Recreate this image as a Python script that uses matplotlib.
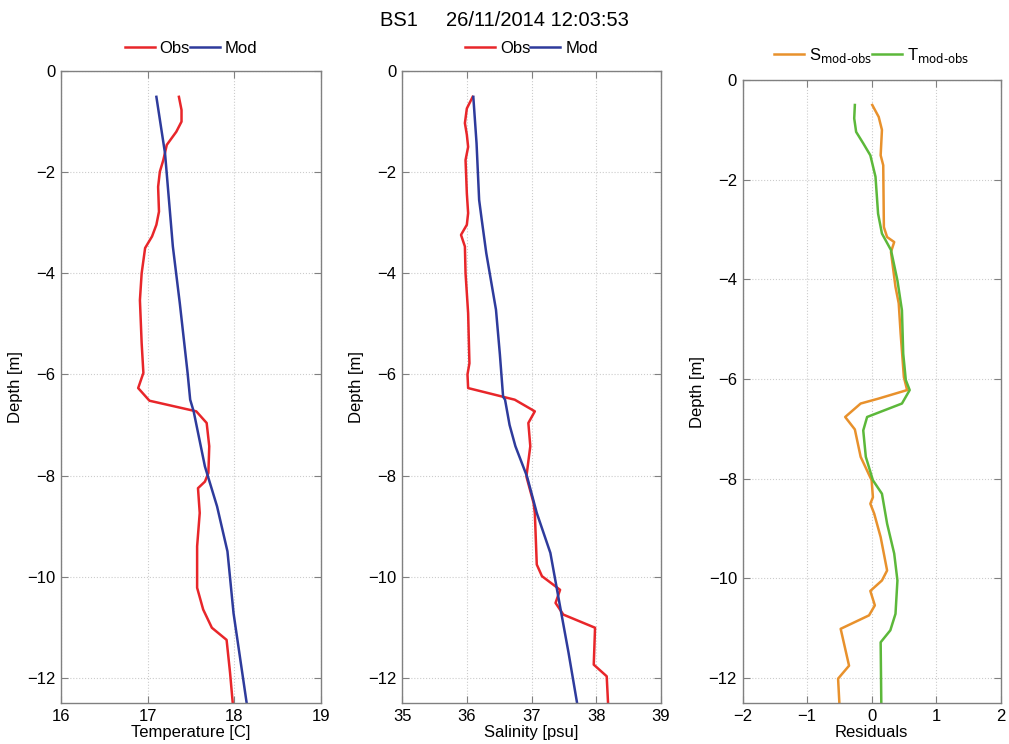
import matplotlib.pyplot as plt
import numpy as np

plt.rcParams['font.family'] = ['Liberation Sans', 'DejaVu Sans']

title = "BS1     26/11/2014 12:03:53"

# temperature profile
t_obs_depth = [-0.51, -0.77, -1.0, -1.2, -1.46, -1.76, -1.99, -2.29, -2.78, -3.04, -3.27, -3.50,
               -4.0, -4.53, -5.38, -5.97, -6.27, -6.52, -6.73, -6.96, -7.42, -7.95, -8.12, -8.25,
               -8.74, -9.40, -10.22, -10.65, -11.01, -11.25, -11.90, -12.48]
t_obs = [17.36, 17.39, 17.39, 17.33, 17.22, 17.18, 17.14, 17.12, 17.13, 17.10, 17.05, 16.97,
         16.93, 16.91, 16.93, 16.95, 16.89, 17.02, 17.56, 17.68, 17.71, 17.70, 17.66, 17.58,
         17.60, 17.57, 17.57, 17.64, 17.74, 17.91, 17.95, 17.98]
t_mod_depth = [-0.51, -1.63, -3.47, -4.59, -5.97, -6.50, -6.73, -7.82, -8.61, -9.50, -10.72, -12.48]
t_mod = [17.10, 17.20, 17.29, 17.37, 17.46, 17.49, 17.53, 17.66, 17.80, 17.92, 17.99, 18.14]

# salinity profile
s_obs_depth = [-0.51, -0.74, -1.03, -1.26, -1.50, -1.76, -2.42, -2.81, -3.04, -3.24, -3.47, -4.0,
               -4.79, -5.78, -6.0, -6.27, -6.50, -6.73, -6.96, -7.42, -8.02, -8.54, -8.74, -9.76,
               -9.99, -10.26, -10.52, -10.75, -11.01, -11.74, -11.97, -12.48]
s_obs = [36.09, 36.00, 35.97, 36.00, 36.02, 35.98, 36.00, 36.02, 36.00, 35.91, 35.97, 35.98,
         36.02, 36.04, 36.01, 36.02, 36.74, 37.05, 36.95, 36.98, 36.92, 37.03, 37.05, 37.08,
         37.16, 37.44, 37.37, 37.49, 37.98, 37.96, 38.16, 38.18]
s_mod_depth = [-0.51, -1.43, -2.55, -2.94, -3.60, -4.72, -5.60, -6.44, -6.50, -7.0, -7.42, -8.02,
               -8.74, -9.53, -10.59, -11.5, -12.48]
s_mod = [36.10, 36.15, 36.19, 36.23, 36.30, 36.45, 36.51, 36.56, 36.59, 36.66, 36.75, 36.93,
         37.08, 37.29, 37.44, 37.57, 37.70]

# residuals
rs_depth = [-0.50, -0.74, -1.0, -1.51, -1.71, -2.95, -3.15, -3.25, -3.45, -4.15, -4.48, -5.09,
            -5.96, -6.22, -6.39, -6.49, -6.76, -7.01, -7.56, -8.03, -8.37, -8.50, -8.70, -9.17,
            -9.84, -10.04, -10.25, -10.54, -10.74, -11.01, -11.75, -12.01, -12.50]
rs = [0.01, 0.11, 0.16, 0.14, 0.18, 0.19, 0.24, 0.35, 0.30, 0.37, 0.42, 0.45,
      0.50, 0.55, 0.11, -0.17, -0.41, -0.26, -0.17, 0.00, 0.02, -0.02, 0.04, 0.14,
      0.24, 0.16, -0.02, 0.05, -0.04, -0.48, -0.35, -0.52, -0.50]
rt_depth = [-0.50, -0.77, -1.04, -1.27, -1.51, -1.94, -2.68, -3.08, -3.41, -4.02, -4.62, -5.49,
            -6.02, -6.22, -6.49, -6.76, -7.03, -7.56, -8.03, -8.30, -8.90, -9.50, -10.04, -10.71,
            -11.04, -11.28, -12.50]
rt = [-0.26, -0.27, -0.24, -0.13, -0.02, 0.06, 0.10, 0.16, 0.30, 0.40, 0.47, 0.49,
      0.53, 0.59, 0.47, -0.07, -0.13, -0.09, 0.02, 0.16, 0.24, 0.35, 0.40, 0.37,
      0.29, 0.14, 0.15]

red = '#e8262a'
blue = '#2e3b9c'
orange = '#e8912c'
green = '#5cb83a'


def style_axes(ax, xlim, xticks, xlabel):
    ax.set_xlim(xlim)
    ax.set_ylim(-12.5, 0)
    ax.set_xticks(xticks)
    ax.set_yticks([0, -2, -4, -6, -8, -10, -12])
    ax.set_xlabel(xlabel, fontsize=12, labelpad=1)
    ax.set_ylabel("Depth [m]", fontsize=12, labelpad=3)
    ax.grid(True, linestyle=':', color='#cccccc', linewidth=0.8)
    ax.tick_params(direction='in', top=True, right=True, labelsize=12,
                   length=5, color='#808080', pad=4)
    for s in ax.spines.values():
        s.set_color('#808080')
        s.set_linewidth(1.0)


fig = plt.figure(figsize=(10.09, 7.44), dpi=100)
fig.suptitle(title, fontsize=14.5, y=0.985)

ax1 = fig.add_axes([0.0605, 0.055, 0.2577, 0.8495])
ax1.plot(t_obs, t_obs_depth, color=red, lw=1.8, label='Obs')
ax1.plot(t_mod, t_mod_depth, color=blue, lw=1.8, label='Mod')
style_axes(ax1, (16, 19), [16, 17, 18, 19], "Temperature [C]")

ax2 = fig.add_axes([0.3985, 0.055, 0.2567, 0.8495])
ax2.plot(s_obs, s_obs_depth, color=red, lw=1.8, label='Obs')
ax2.plot(s_mod, s_mod_depth, color=blue, lw=1.8, label='Mod')
style_axes(ax2, (35, 39), [35, 36, 37, 38, 39], "Salinity [psu]")

ax3 = fig.add_axes([0.736, 0.055, 0.2557, 0.8374])
ax3.plot(rs, rs_depth, color=orange, lw=1.8, label=r'S$_{\mathrm{mod‑obs}}$')
ax3.plot(rt, rt_depth, color=green, lw=1.8, label=r'T$_{\mathrm{mod‑obs}}$')
style_axes(ax3, (-2, 2), [-2, -1, 0, 1, 2], "Residuals")

for ax in (ax1, ax2, ax3):
    ax.legend(loc='lower center', bbox_to_anchor=(0.5, 1.0), ncol=2, frameon=False,
              fontsize=12, handlelength=1.8, handletextpad=0.3, columnspacing=0.0,
              borderaxespad=0.5)

fig.savefig('out.png', dpi=100)
